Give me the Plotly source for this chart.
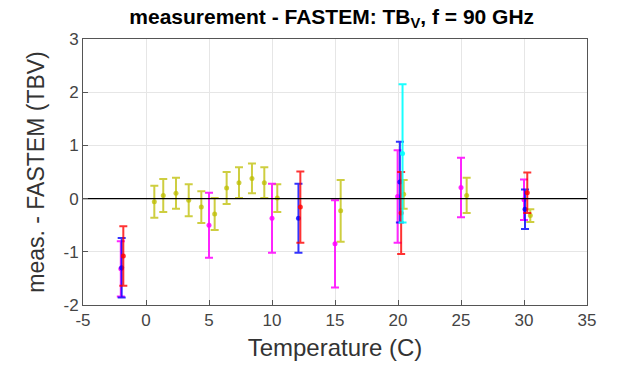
import plotly.graph_objects as go

# Yellow series
yel_x = [0.66, 1.37, 2.38, 3.39, 4.39, 5.45, 6.4, 7.38, 8.41, 9.39, 10.42, 15.45, 20.45, 25.45, 30.5]
yel_y = [-0.06, 0.06, 0.10, -0.03, -0.16, -0.29, 0.20, 0.30, 0.38, 0.30, 0.01, -0.23, 0.08, 0.06, -0.32]
yel_e = [0.30, 0.31, 0.29, 0.30, 0.30, 0.30, 0.30, 0.29, 0.28, 0.29, 0.26, 0.58, 0.27, 0.33, 0.12]

# Magenta series
mag_x = [-2.0, 5.0, 10.0, 15.0, 19.97, 25.0, 30.0]
mag_y = [-1.32, -0.50, -0.37, -0.85, 0.04, 0.21, -0.02]
mag_e = [0.52, 0.61, 0.65, 0.82, 0.87, 0.56, 0.38]

# Blue series
blu_x = [-1.93, 12.1, 20.15, 30.08]
blu_y = [-1.30, -0.37, 0.31, -0.20]
blu_e = [0.56, 0.65, 0.76, 0.37]

# Red series
red_x = [-1.8, 12.25, 20.25, 30.26]
red_y = [-1.08, -0.16, -0.27, 0.11]
red_e = [0.56, 0.67, 0.77, 0.38]

# Cyan series
cya_x = [20.36]
cya_y = [0.85]
cya_e = [1.30]

# Tick labels
x_ticks = [-5, 0, 5, 10, 15, 20, 25, 30, 35]
x_ticklabels = ["-5", "0", "5", "10", "15", "20", "25", "30", "35"]
y_ticks = [-2, -1, 0, 1, 2, 3]
y_ticklabels = ["-2", "-1", "0", "1", "2", "3"]

series = [
    (yel_x, yel_y, yel_e, "rgba(190,190,0,0.75)"),
    (mag_x, mag_y, mag_e, "rgba(255,0,255,0.85)"),
    (blu_x, blu_y, blu_e, "rgba(0,0,255,0.8)"),
    (red_x, red_y, red_e, "rgba(255,0,0,0.8)"),
    (cya_x, cya_y, cya_e, "rgba(0,255,255,0.9)"),
]

fig = go.Figure()
for xs, ys, es, col in series:
    fig.add_trace(go.Scatter(
        x=xs, y=ys, mode="markers",
        marker=dict(color=col, size=5),
        error_y=dict(type="data", array=es, visible=True, color=col, thickness=2, width=4),
        showlegend=False,
    ))

# zero reference line
zero_x = [-5, 35]
zero_y = [0, 0]
fig.add_trace(go.Scatter(x=zero_x, y=zero_y, mode="lines",
                         line=dict(color="black", width=1.2), showlegend=False, hoverinfo="skip"))

FONT = "Liberation Sans, Arial"
axis_common = dict(
    showline=True, linecolor="#555555", linewidth=1, mirror=True,
    ticks="inside", ticklen=5, tickcolor="#555555",
    showgrid=True, gridcolor="#e6e6e6", gridwidth=1,
    zeroline=False,
    tickfont=dict(family=FONT, size=17, color="#444444"),
)

fig.update_layout(
    width=620, height=371,
    margin=dict(l=83, r=33, t=39, b=66),
    paper_bgcolor="white", plot_bgcolor="white",
    title=dict(text="<b>measurement - FASTEM: TB<sub>V</sub>, f = 90 GHz</b>",
               x=0.535, xanchor="center", y=0.955, yanchor="middle",
               font=dict(family=FONT, size=21, color="black")),
    xaxis=dict(range=[-5, 35], tickvals=x_ticks, ticktext=x_ticklabels,
               title=dict(text="Temperature (C)", font=dict(family=FONT, size=24, color="#333333"), standoff=9),
               **axis_common),
    yaxis=dict(range=[-2, 3], tickvals=y_ticks, ticktext=y_ticklabels,
               title=dict(text="meas. - FASTEM (TBV)", font=dict(family=FONT, size=23, color="#333333"), standoff=12),
               **axis_common),
)

fig.write_html("out.html")
